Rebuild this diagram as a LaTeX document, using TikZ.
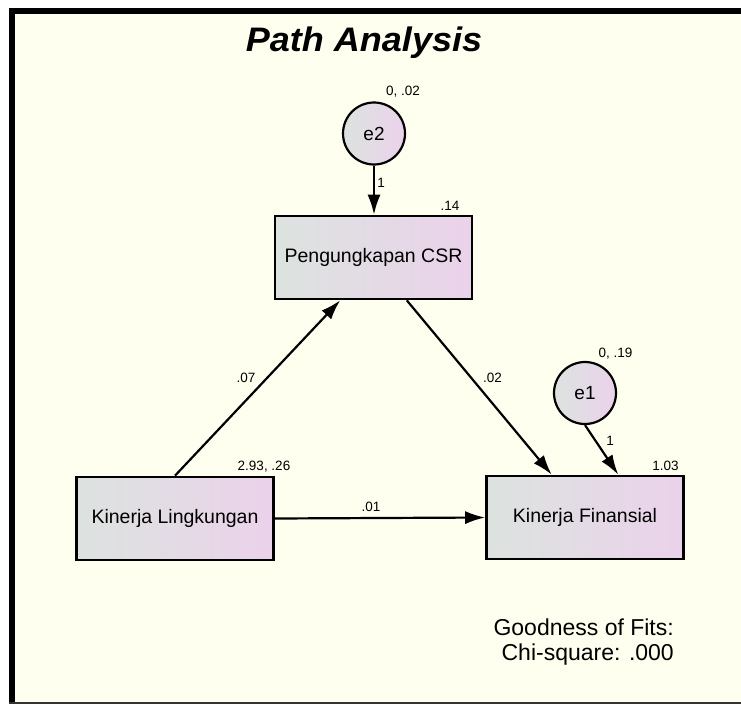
\documentclass[tikz,border=0pt]{standalone}
\usepackage{fontspec}
\setmainfont{Liberation Sans}
\usepackage{graphicx}
\usetikzlibrary{positioning,arrows.meta,calc}
\definecolor{ivory}{HTML}{FFFFF0}
\definecolor{shadel}{HTML}{DCE3DF}
\definecolor{shader}{HTML}{EBD2EB}
\tikzset{obs/.style={draw, line width=2.6pt, left color=shadel, right color=shader,
    minimum width=197pt, minimum height=83pt, inner sep=0pt, font=\fontsize{19.5}{22}\selectfont},
  err/.style={draw, circle, line width=2.2pt, left color=shadel, right color=shader,
    minimum size=62pt, inner sep=0pt, font=\fontsize{19}{22}\selectfont},
  est/.style={inner sep=0pt, font=\fontsize{13.5}{15}\selectfont},
  reg/.style={line width=2.2pt, -{Latex[length=20pt,width=13pt]}}}

\begin{document}
\begin{tikzpicture}[x=1pt,y=-1pt]
\useasboundingbox (0,0) rectangle (741,704);
% frame
\fill[white] (0,0) rectangle (741,704);
\fill[ivory] (9,8) rectangle (741,704);
\fill[black] (9,8) rectangle (15,704);
\fill[black] (9,8) rectangle (741,14);
\fill[black!80] (9,702) rectangle (741,704);
\node[anchor=base] (title) at (364,51) {\scalebox{1.06}[1]{\fontsize{34}{38}\selectfont\bfseries\itshape Path Analysis}};
% variables
\node[obs] (csr) at (373.5,257.5) {Pengungkapan CSR};
\node[obs] (kl) at (175,518.5) {Kinerja Lingkungan};
\node[obs] (kf) at (585,517.5) {Kinerja Finansial};
\node[err] (e2) at (374,133.5) {e2};
\node[err] (e1) at (585,393) {e1};
% paths
\draw[reg] (e2.south) -- (e2.south |- csr.north);
\draw[reg] (kl.north) -- ($(csr.south west)!1/3!(csr.south east)$);
\draw[reg] ($(csr.south west)!2/3!(csr.south east)$) -- ($(kf.north west)!1/3!(kf.north east)$);
\draw[reg] (e1.south) -- ($(kf.north west)!2/3!(kf.north east)$);
\draw[reg] (kl.east) -- (kf.west);
% estimates
\node[est] (v2) at (403,92) {0, .02};
\node[est] (r2) at (450,206) {.14};
\node[est] (v1) at (615.5,354) {0, .19};
\node[est] (r1) at (665.5,465.5) {1.03};
\node[est] (mkl) at (264,467) {2.93, .26};
\node[est] (w2) at (381,183) {1};
\node[est] (w1) at (610,441) {1};
\node[est] (b1) at (246,378) {.07};
\node[est] (b2) at (492.5,378) {.02};
\node[est] (b3) at (371,507) {.01};
% fit
\node[anchor=east, align=right, inner sep=0pt, font=\fontsize{23}{25}\selectfont] (gof) at (674,642) {Goodness of Fits:\\Chi-square: .000};
\end{tikzpicture}
\end{document}
